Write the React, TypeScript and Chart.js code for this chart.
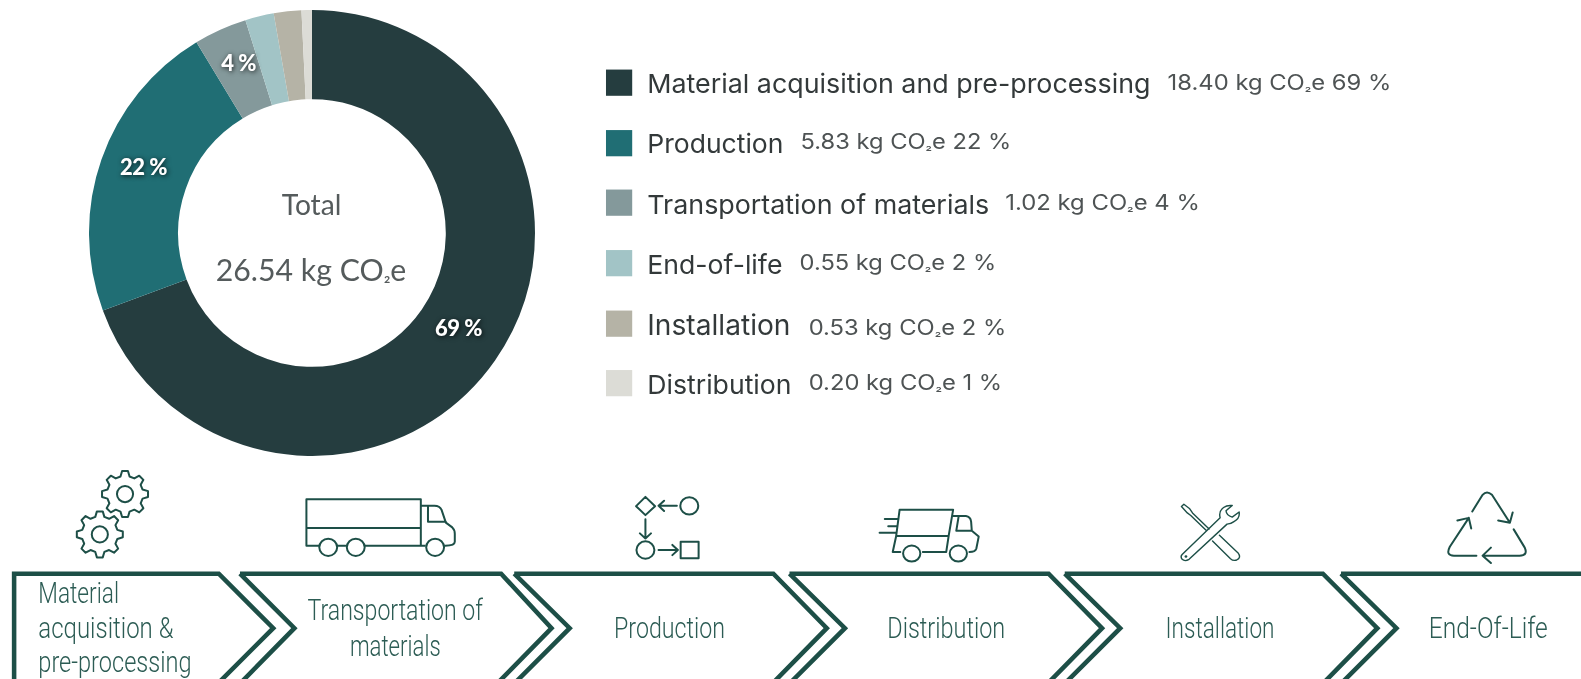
import React, { useEffect, useRef } from "react";
import { Chart, registerables } from "chart.js";

Chart.register(...registerables);

const categories = ["Material acquisition and pre-processing", "Production", "Transportation of materials", "End-of-life", "Installation", "Distribution"];
const valuesKg = [18.4, 5.83, 1.02, 0.55, 0.53, 0.2];
const percents = [69, 22, 4, 2, 2, 1];
const sliceColors = ["#253d3f", "#206e74", "#84999b", "#a2c4c6", "#b5b3a6", "#dcdcd6"];
const totalLabel = "Total";
const totalValue = "26.54 kg CO";
const stages = [["Material", "acquisition &", "pre-processing"], ["Transportation of", "materials"], ["Production"], ["Distribution"], ["Installation"], ["End-Of-Life"]];

// layout of the legend rows (swatch centre y, baselines, label box, value box)
const legendRowY = [82, 142, 201, 261, 321, 380];
const legendLabelBase = [92, 152, 212, 272, 332, 391];
const legendValueBase = [89, 148, 208, 268, 332, 387];
const legendLabelW = [499, 135, 339, 134, 142, 143];
const legendValueX = [1158, 794, 997, 793, 802, 802];
const legendValueW = [222, 209, 193, 195, 196, 192];
const GREEN = "#1d4f47";
const TEXTGREEN = "#2c5c54";
const SCALE = 1581 / 1568;

const chevrons = [
  "M14,679 L14,569 L217,569 L271,623 L215,679",
  "M238,569 L497,569 L547,623 L492,679 M238,569 L292,623 L237,679",
  "M510,569 L767,569 L820,623 L765,679 M510,569 L565,623 L509,679",
  "M783,569 L1040,569 L1093,623 L1038,679 M783,569 L838,623 L782,679",
  "M1056,569 L1312,569 L1366,623 L1311,679 M1056,569 L1111,623 L1055,679",
  "M1330,569 L1581,569 M1330,569 L1385,623 L1329,679",
];
const stageText: [number, number, number][][] = [
  [[38, 598, 80], [38, 633, 134], [38, 666.5, 152]],
  [[305, 615, 174], [347, 651, 90]],
  [[609, 633, 110]],
  [[880, 633, 117]],
  [[1156, 633, 108]],
  [[1417, 633, 118]],
];

function gearPath(cx: number, cy: number, R: number, r: number, teeth: number) {
  const pts: string[] = [];
  const step = (Math.PI * 2) / teeth;
  for (let i = 0; i < teeth; i++) {
    const a = i * step - Math.PI / 2;
    const seq: [number, number][] = [
      [r, a - step * 0.32],
      [R, a - step * 0.16],
      [R, a + step * 0.16],
      [r, a + step * 0.32],
    ];
    for (const [rad, an] of seq) pts.push(`${(cx + rad * Math.cos(an)).toFixed(1)},${(cy + rad * Math.sin(an)).toFixed(1)}`);
  }
  return "M" + pts.join(" L") + " Z";
}

const centerLabels = {
  id: "sliceLabels",
  afterDatasetsDraw(chart: any) {
    const meta = chart.getDatasetMeta(0);
    const ctx = chart.ctx;
    ctx.save();
    ctx.font = "900 22px Lato";
    ctx.fillStyle = "#ffffff";
    ctx.textAlign = "center";
    ctx.textBaseline = "middle";
    ctx.shadowColor = "rgba(0,0,0,0.8)";
    ctx.shadowBlur = 5;
    ctx.shadowOffsetX = 1;
    ctx.shadowOffsetY = 1;
    if ("letterSpacing" in ctx) ctx.letterSpacing = "-0.5px";
    meta.data.forEach((arc: any, i: number) => {
      if (percents[i] < 4) return;
      const p = arc.getCenterPoint();
      ctx.fillText(`${percents[i]} %`, p.x, p.y - 6);
    });
    ctx.restore();
  },
};

const stroke = { fill: "none", stroke: GREEN, strokeWidth: 2, strokeLinecap: "round" as const, strokeLinejoin: "round" as const, vectorEffect: "non-scaling-stroke" as const };

export default function App() {
  const ref = useRef<HTMLCanvasElement | null>(null);
  useEffect(() => {
    const chart = new Chart(ref.current as HTMLCanvasElement, {
      type: "doughnut",
      data: {
        labels: categories,
        datasets: [{ data: valuesKg, backgroundColor: sliceColors, borderWidth: 0 }],
      },
      options: {
        animation: false,
        responsive: false,
        cutout: "60%",
        layout: { padding: 0 },
        plugins: { legend: { display: false }, tooltip: { enabled: false } },
      },
      plugins: [centerLabels],
    } as any);
    return () => chart.destroy();
  }, []);

  return (
    <div style={{ position: "fixed", left: 0, top: 0, width: 1581, height: 679, overflow: "hidden", background: "#fff" }}>
      <div style={{ position: "absolute", left: 89, top: 10, width: 446, height: 446 }}>
        <canvas ref={ref} width={446} height={446} style={{ display: "block", width: 446, height: 446 }} />
      </div>
      <svg width={1581} height={679} style={{ position: "absolute", left: 0, top: 0 }}>
        <g transform={`scale(${SCALE})`}>
          <text x={309} y={213} textAnchor="middle" fontFamily="Lato" fontSize={28} fill="#555b5c">{totalLabel}</text>
          <text x={214} y={279} textLength={189} lengthAdjust="spacingAndGlyphs" fontFamily="Lato" fontSize={30} fill="#555b5c">
            {totalValue}<tspan fontSize={20}>₂</tspan>e
          </text>

          <g style={{ filter: "blur(0.35px)" }}>
            {categories.map((c, i) => (
              <g key={c}>
                <rect x={601} y={legendRowY[i] - 13} width={26} height={26} fill={sliceColors[i]} />
                <text x={642} y={legendLabelBase[i]} textLength={legendLabelW[i]} lengthAdjust="spacingAndGlyphs" fontFamily="Inter" fontSize={i === 4 ? 28 : 26} fill="#33393a">{c}</text>
                <text x={legendValueX[i]} y={legendValueBase[i]} textLength={legendValueW[i]} lengthAdjust="spacingAndGlyphs" fontFamily="Inter" fontSize={21} fill="#4e5354">
                  {`${valuesKg[i].toFixed(2)} kg CO`}<tspan fontSize={13}>₂</tspan>{`e ${percents[i]} %`}
                </text>
              </g>
            ))}
          </g>

          {chevrons.map((d, i) => (
            <path key={i} d={d} fill="none" stroke={GREEN} strokeWidth={4.5} strokeLinejoin="miter" />
          ))}
          {stages.map((lines, i) =>
            lines.map((t, j) => (
              <text key={t} x={stageText[i][j][0]} y={stageText[i][j][1]} textLength={stageText[i][j][2]} lengthAdjust="spacingAndGlyphs" fontFamily="Roboto" fontWeight={300} fontSize={29} fill={TEXTGREEN}>{t}</text>
            ))
          )}

          {/* gears */}
          <path d={gearPath(124, 490, 23, 18, 8)} {...stroke} />
          <circle cx={124} cy={490} r={8} {...stroke} />
          <path d={gearPath(99, 530, 23, 18, 8)} {...stroke} />
          <circle cx={99} cy={530} r={8} {...stroke} />

          {/* truck */}
          <g transform="translate(0,458) scale(0.3546,0.3175)">
            <path d="M891,262 L857,262 L857,117 L1177,117 L1177,262 M857,207 L1177,207 M945,262 L966,262 M1022,262 L1188,262 M1177,137 L1215,137 Q1230,137 1235,150 L1247,190 L1265,205 Q1272,212 1272,225 L1272,250 Q1272,262 1245,262 M1197,137 L1197,187 L1247,187" {...stroke} />
            <ellipse cx={918} cy={267} rx={25} ry={27} {...stroke} />
            <ellipse cx={995} cy={267} rx={25} ry={27} {...stroke} />
            <ellipse cx={1217} cy={267} rx={25} ry={27} {...stroke} />
          </g>

          {/* process */}
          <g transform="translate(536,458.5) scale(0.3425,0.3175)">
            <path d="M304,108 L332,137 L304,165 L277,137 Z M395,136 L342,136 M358,120 L342,136 L358,152 M304,178 L304,238 M288,222 L304,238 L320,222 M342,274 L398,274 M382,258 L398,274 L382,290 M406,248 L458,248 L458,300 L406,300 Z" {...stroke} />
            <ellipse cx={431} cy={136} rx={26} ry={27} {...stroke} />
            <ellipse cx={304} cy={274} rx={26} ry={27} {...stroke} />
          </g>

          {/* delivery truck */}
          <g transform="translate(535,458.5) scale(0.3425,0.3175)">
            <path d="M1043,148 L1198,148 L1185,230 L1033,230 Z M1033,230 L1023,280 L1045,280 M1110,280 L1178,280 L1185,230 M1198,168 L1235,168 Q1248,170 1250,185 L1252,214 L1207,214 L1214,168 M1252,214 L1272,232 L1265,270 Q1262,280 1245,280 M1000,177 L1040,177 M1010,200 L1036,200 M985,220 L1033,220" {...stroke} />
            <ellipse cx={1078} cy={285} rx={25} ry={25} {...stroke} />
            <ellipse cx={1213} cy={285} rx={25} ry={25} {...stroke} />
          </g>

          {/* tools */}
          <g transform="translate(1032,459.5) scale(0.3425,0.3175)">
            <path d="M408,135 L415,128 L432,142 L440,155 L488,205 M408,135 L425,155 L435,163 L480,210 M518,225 L572,280 Q582,295 568,302 Q558,306 550,298 L498,243 M410,285 L520,170 Q515,150 530,138 Q540,130 555,132 L537,148 Q538,162 555,168 L575,152 Q578,172 560,182 Q550,190 540,190 L430,300 Q418,308 410,300 Q404,292 410,285" {...stroke} strokeWidth={1.4} />
            <circle cx={421} cy={291} r={4} fill={GREEN} />
          </g>

          {/* recycle */}
          <g transform="translate(1031,459) scale(0.3425,0.3175)">
            <path d="M1253,152 L1283,100 Q1295,85 1310,100 L1362,187 M1328,180 L1362,187 L1370,155 M1373,208 L1405,265 Q1415,290 1390,290 L1283,290 M1307,265 L1283,290 L1307,313 M1265,290 L1200,290 Q1175,290 1188,262 L1243,172 M1210,180 L1243,172 L1250,205" {...stroke} />
          </g>
        </g>
      </svg>
    </div>
  );
}
